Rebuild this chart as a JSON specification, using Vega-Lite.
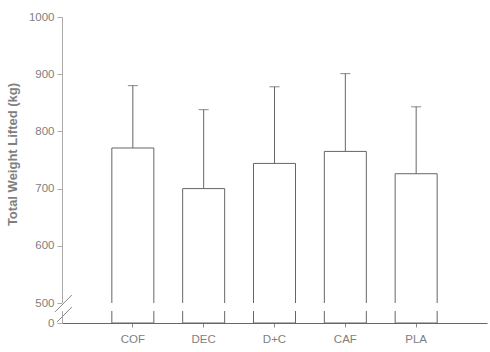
{
  "$schema": "https://vega.github.io/schema/vega-lite/v6.json",
  "width": 425,
  "height": 306,
  "autosize": {"type": "none"},
  "padding": {"left": 62, "top": 17, "right": 3, "bottom": 29},
  "background": "white",
  "config": {
    "view": {"stroke": null},
    "font": "Liberation Sans",
    "axis": {"grid": false, "labelFont": "Liberation Sans", "titleFont": "Liberation Sans"}
  },
  "datasets": {
    "bars": [
      {"group": "COF", "mean": 771, "upper": 880},
      {"group": "DEC", "mean": 700, "upper": 838},
      {"group": "D+C", "mean": 744, "upper": 878},
      {"group": "CAF", "mean": 765, "upper": 901},
      {"group": "PLA", "mean": 726, "upper": 843}
    ],
    "gap": [{"lo": 300, "hi": 498}],
    "slashes": [
      {"xa": -0.1, "xb": 0.14, "ya": 275, "yb": 514},
      {"xa": -0.07, "xb": 0.14, "ya": 25, "yb": 400}
    ]
  },
  "layer": [
    {
      "layer": [
        {
          "data": {"name": "bars"},
          "mark": {"type": "bar", "fill": "white", "stroke": "#666666", "strokeWidth": 1},
          "encoding": {
            "x": {
              "field": "group", "type": "nominal", "sort": null,
              "scale": {"paddingInner": 0.407, "paddingOuter": 0.7035},
              "axis": {
                "title": null, "labelAngle": 0, "domainColor": "#666666", "tickColor": "#888888",
                "tickSize": 4, "labelColor": "#808080", "labelFontSize": 11.5, "labelPadding": 6
              }
            },
            "y": {
              "field": "mean", "type": "quantitative",
              "scale": {"domain": [0, 500, 1000], "range": [306, 286, 0], "nice": false, "zero": false},
              "axis": {
                "title": "Total Weight Lifted (kg)", "values": [0, 500, 600, 700, 800, 900, 1000],
                "format": "d",
                "domainColor": "#aaaaaa", "tickColor": "#aaaaaa", "tickSize": 5,
                "labelColor": "#808080", "labelFontSize": 11.5, "labelPadding": 3,
                "titleColor": "#808080", "titleFontSize": 13, "titleFontWeight": "bold",
                "titlePadding": 9, "titleY": 137
              }
            }
          }
        },
        {
          "data": {"name": "bars"},
          "mark": {"type": "rule", "color": "#666666", "strokeWidth": 1},
          "encoding": {
            "x": {"field": "group", "type": "nominal", "sort": null},
            "y": {"field": "mean", "type": "quantitative"},
            "y2": {"field": "upper"}
          }
        },
        {
          "data": {"name": "bars"},
          "mark": {"type": "tick", "orient": "horizontal", "color": "#555555", "size": 10, "thickness": 1},
          "encoding": {
            "x": {"field": "group", "type": "nominal", "sort": null},
            "y": {"field": "upper", "type": "quantitative"}
          }
        },
        {
          "data": {"name": "gap"},
          "mark": {"type": "rect", "fill": "white"},
          "encoding": {
            "y": {"field": "lo", "type": "quantitative"},
            "y2": {"field": "hi"}
          }
        }
      ]
    },
    {
      "data": {"name": "slashes"},
      "mark": {"type": "rule", "color": "#888888", "strokeWidth": 1},
      "encoding": {
        "x": {"field": "xa", "type": "quantitative", "scale": {"domain": [0, 6], "nice": false, "zero": false}, "axis": null},
        "x2": {"field": "xb"},
        "y": {"field": "ya", "type": "quantitative"},
        "y2": {"field": "yb"}
      }
    }
  ],
  "resolve": {"scale": {"x": "independent"}, "axis": {"x": "independent"}}
}
